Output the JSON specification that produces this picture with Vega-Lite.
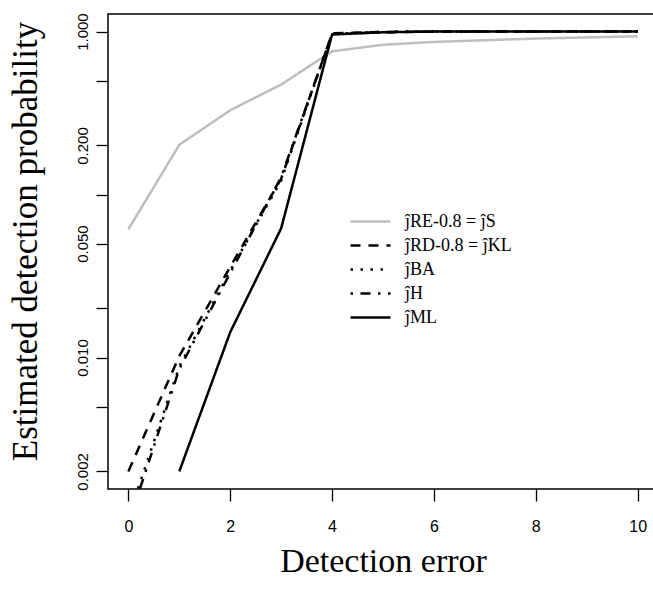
{
  "$schema": "https://vega.github.io/schema/vega-lite/v6.json",
  "width": 550,
  "height": 475,
  "autosize": {"type": "none"},
  "padding": {"left": 108, "top": 14, "right": 0, "bottom": 101},
  "background": "white",
  "config": {
    "view": {"stroke": "black", "strokeWidth": 1.5},
    "axis": {"grid": false, "domain": false},
    "legend": {
      "symbolType": "M-1,0H3",
      "symbolSize": 400,
      "symbolStrokeWidth": 2.5,
      "labelFont": "Liberation Serif",
      "labelFontSize": 18,
      "labelColor": "black",
      "labelOffset": 33,
      "rowPadding": 3,
      "padding": 0,
      "labelLimit": 300
    }
  },
  "data": {
    "values": [
      {"estimator": "RE", "error": 0, "prob": 0.0612},
      {"estimator": "RE", "error": 1, "prob": 0.202},
      {"estimator": "RE", "error": 2, "prob": 0.329},
      {"estimator": "RE", "error": 3, "prob": 0.473},
      {"estimator": "RE", "error": 4, "prob": 0.757},
      {"estimator": "RE", "error": 5, "prob": 0.83},
      {"estimator": "RE", "error": 6, "prob": 0.864},
      {"estimator": "RE", "error": 7, "prob": 0.885},
      {"estimator": "RE", "error": 8, "prob": 0.906},
      {"estimator": "RE", "error": 9, "prob": 0.921},
      {"estimator": "RE", "error": 10, "prob": 0.935},
      {"estimator": "RD", "error": 0, "prob": 0.002},
      {"estimator": "RD", "error": 1, "prob": 0.0102},
      {"estimator": "RD", "error": 2, "prob": 0.036},
      {"estimator": "RD", "error": 3, "prob": 0.125},
      {"estimator": "RD", "error": 4, "prob": 0.975},
      {"estimator": "RD", "error": 5, "prob": 0.995},
      {"estimator": "RD", "error": 6, "prob": 1.0},
      {"estimator": "RD", "error": 7, "prob": 1.0},
      {"estimator": "RD", "error": 8, "prob": 1.0},
      {"estimator": "RD", "error": 9, "prob": 1.0},
      {"estimator": "RD", "error": 10, "prob": 1.0},
      {"estimator": "BA", "error": 0, "prob": 0.00105},
      {"estimator": "BA", "error": 1, "prob": 0.0088},
      {"estimator": "BA", "error": 2, "prob": 0.034},
      {"estimator": "BA", "error": 3, "prob": 0.122},
      {"estimator": "BA", "error": 4, "prob": 0.97},
      {"estimator": "BA", "error": 5, "prob": 0.995},
      {"estimator": "BA", "error": 6, "prob": 1.0},
      {"estimator": "BA", "error": 7, "prob": 1.0},
      {"estimator": "BA", "error": 8, "prob": 1.0},
      {"estimator": "BA", "error": 9, "prob": 1.0},
      {"estimator": "BA", "error": 10, "prob": 1.0},
      {"estimator": "H", "error": 0, "prob": 0.00095},
      {"estimator": "H", "error": 1, "prob": 0.0085},
      {"estimator": "H", "error": 2, "prob": 0.033},
      {"estimator": "H", "error": 3, "prob": 0.128},
      {"estimator": "H", "error": 4, "prob": 0.965},
      {"estimator": "H", "error": 5, "prob": 0.99},
      {"estimator": "H", "error": 6, "prob": 1.0},
      {"estimator": "H", "error": 7, "prob": 1.0},
      {"estimator": "H", "error": 8, "prob": 1.0},
      {"estimator": "H", "error": 9, "prob": 1.0},
      {"estimator": "H", "error": 10, "prob": 1.0},
      {"estimator": "ML", "error": 1, "prob": 0.002},
      {"estimator": "ML", "error": 2, "prob": 0.0143},
      {"estimator": "ML", "error": 3, "prob": 0.062},
      {"estimator": "ML", "error": 4, "prob": 0.96},
      {"estimator": "ML", "error": 5, "prob": 0.99},
      {"estimator": "ML", "error": 6, "prob": 1.0},
      {"estimator": "ML", "error": 7, "prob": 1.0},
      {"estimator": "ML", "error": 8, "prob": 1.0},
      {"estimator": "ML", "error": 9, "prob": 1.0},
      {"estimator": "ML", "error": 10, "prob": 1.0}
    ]
  },
  "mark": {"type": "line", "clip": true, "strokeWidth": 2.5},
  "encoding": {
    "x": {
      "field": "error",
      "type": "quantitative",
      "scale": {"domain": [-0.4, 10.4], "nice": false, "zero": false},
      "axis": {
        "title": "Detection error",
        "values": [0, 2, 4, 6, 8, 10],
        "format": "d",
        "tickSize": 12,
        "tickColor": "black",
        "tickWidth": 1.3,
        "labelFont": "Liberation Sans",
        "labelFontSize": 16,
        "labelColor": "black",
        "labelPadding": 17,
        "titleFont": "Liberation Serif",
        "titleFontSize": 34,
        "titleFontWeight": "normal",
        "titleColor": "black",
        "titleX": 275,
        "titleY": 82,
        "titleAlign": "center",
        "titleBaseline": "alphabetic"
      }
    },
    "y": {
      "field": "prob",
      "type": "quantitative",
      "scale": {"type": "log", "domain": [0.00156, 1.282], "nice": false},
      "axis": {
        "title": "Estimated detection probability",
        "values": [0.002, 0.005, 0.01, 0.02, 0.05, 0.1, 0.2, 0.5, 1],
        "labelExpr": "(datum.value == 0.002 || datum.value == 0.01 || datum.value == 0.05 || datum.value == 0.2 || datum.value == 1) ? format(datum.value, '.3f') : ''",
        "tickSize": 12,
        "tickColor": "black",
        "tickWidth": 1.3,
        "labelFont": "Liberation Sans",
        "labelFontSize": 15,
        "labelColor": "black",
        "labelAngle": 270,
        "labelAlign": "center",
        "labelBaseline": "alphabetic",
        "labelPadding": 9,
        "titleFont": "Liberation Serif",
        "titleFontSize": 35,
        "titleFontWeight": "normal",
        "titleColor": "black",
        "titleAngle": 270,
        "titleX": -72,
        "titleY": 227,
        "titleAlign": "center",
        "titleBaseline": "alphabetic"
      }
    },
    "stroke": {
      "field": "estimator",
      "type": "nominal",
      "sort": ["RE", "RD", "BA", "H", "ML"],
      "scale": {
        "domain": ["RE", "RD", "BA", "H", "ML"],
        "range": ["#BEBEBE", "black", "black", "black", "black"]
      },
      "legend": {
        "title": null,
        "orient": "none",
        "legendX": 241,
        "legendY": 196,
        "labelExpr": "{'RE': 'ĵRE-0.8 = ĵS', 'RD': 'ĵRD-0.8 = ĵKL', 'BA': 'ĵBA', 'H': 'ĵH', 'ML': 'ĵML'}[datum.label]"
      }
    },
    "strokeDash": {
      "field": "estimator",
      "type": "nominal",
      "sort": ["RE", "RD", "BA", "H", "ML"],
      "scale": {
        "domain": ["RE", "RD", "BA", "H", "ML"],
        "range": [[1, 0], [10, 8], [2.5, 7.5], [2.5, 7.5, 10, 7.5], [1, 0]]
      },
      "legend": {
        "title": null,
        "orient": "none",
        "legendX": 241,
        "legendY": 196,
        "labelExpr": "{'RE': 'ĵRE-0.8 = ĵS', 'RD': 'ĵRD-0.8 = ĵKL', 'BA': 'ĵBA', 'H': 'ĵH', 'ML': 'ĵML'}[datum.label]"
      }
    }
  }
}
